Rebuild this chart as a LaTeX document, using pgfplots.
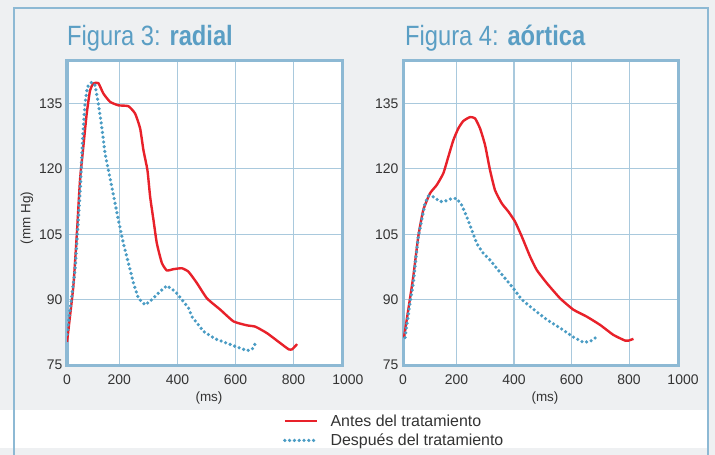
\documentclass[border=0pt]{standalone}
\usepackage{fontspec}
\setmainfont{Liberation Sans}
\usepackage{graphicx}
\usepackage{pgfplots}
\pgfplotsset{compat=1.18}
\definecolor{bg}{HTML}{EEF0F2}
\definecolor{framec}{HTML}{8DB9D4}
\definecolor{gridc}{HTML}{A9C9DD}
\definecolor{titc}{HTML}{5A9EC4}
\definecolor{redc}{HTML}{E8212A}
\definecolor{bluec}{HTML}{4A9CC4}
\definecolor{txt}{HTML}{333333}
\pgfplotsset{
 panel/.style={
  scale only axis, height=305bp,
  ymin=75,ymax=145, ytick={75,90,105,120,135},
  grid=major, major grid style={gridc, line width=1.1bp},
  axis line style={framec, line width=3bp},
  major tick length=0pt,
  axis background/.style={fill=white},
  tick label style={font=\fontsize{14}{16}\selectfont, text=txt},
  /pgf/number format/assume math mode=true,
  yticklabel style={xshift=-1bp},
  xticklabel style={yshift=-6bp},
  xticklabels={0,200,400,600,800,\hspace*{10bp}1000},
 },
 before/.style={redc, line width=2.4bp, line join=round, smooth, tension=0.3},
 after/.style={bluec, line width=3.6bp, line cap=round, dash pattern=on 0bp off 4.8bp},
}
\begin{document}
\begin{tikzpicture}
\path[use as bounding box] (0bp,0bp) rectangle (715bp,-455bp);
\fill[bg] (0bp,0bp) rectangle (715bp,-455bp);
\fill[white] (0bp,-410bp) rectangle (708bp,-448bp);
\draw[framec, line width=2.5bp] (14bp,-460bp) -- (14bp,-8bp) -- (708bp,-8bp) -- (708bp,-460bp);

\node[anchor=base west, inner sep=0pt, text=titc, font=\fontsize{28}{30}\selectfont] at (67bp,-45bp) {\scalebox{0.85}[1]{Figura 3: \textbf{radial}}};
\node[anchor=base west, inner sep=0pt, text=titc, font=\fontsize{28}{30}\selectfont] at (405bp,-45bp) {\scalebox{0.85}[1]{Figura 4: \textbf{aórtica}}};
\node[rotate=90, inner sep=0pt, text=txt, font=\fontsize{13.5}{15}\selectfont] at (27bp,-218bp) {(mm Hg)};
\node[inner sep=0pt, text=txt, font=\fontsize{13.5}{15}\selectfont] at (209bp,-398bp) {(ms)};
\node[inner sep=0pt, text=txt, font=\fontsize{13.5}{15}\selectfont] at (545bp,-398bp) {(ms)};

\begin{axis}[panel, width=276bp, at={(67bp,-365bp)}, anchor=south west,
  xmin=20, xmax=970, xtick={20,200,400,600,800,970},
  legend style={at={(axis description cs:0.7826,-0.216)}, anchor=west, draw=none, fill=none,
    inner sep=0pt, outer sep=0pt, row sep=6bp, column sep=12bp,
    font=\fontsize{16}{18}\selectfont, text=txt, nodes={inner sep=0pt}},
  legend cell align=left,
  legend image code/.code={\draw[#1, sharp plot] (0bp,0bp) -- (32bp,0bp);},
]
\addplot[before] coordinates {(20,80.3)(41.7,93.0)(53.4,104.5)(64.8,117.4)(76.2,125.1)(87.9,132.7)(99.3,138.0)(110.7,139.6)(127.9,139.7)(145.2,137.3)(168.3,135.4)(196.9,134.6)(231.4,134.4)(254.5,132.7)(271.7,129.3)(283.1,124.3)(296.9,119.7)(306.2,113.6)(317.6,108.3)(329.3,102.9)(346.6,98.4)(363.8,96.7)(386.6,97.0)(415.5,97.2)(438.3,96.4)(467.2,93.8)(501.7,90.3)(547.6,87.7)(593.4,85.0)(639.7,84.1)(668.3,83.8)(708.6,82.3)(754.5,80.0)(783.1,78.6)(794.8,78.6)(812.1,79.8)};
\addlegendentry{Antes del tratamiento}
\addplot[after] coordinates {(20,82)(47.6,96.8)(59.0,108.3)(67.2,117.4)(74.1,127.4)(82.1,135)(90.0,138.8)(105.2,139.9)(116.6,139.2)(127.9,135)(139.7,129.6)(151.0,123.5)(162.4,119.7)(174.1,115.9)(185.5,112.1)(196.9,108.3)(214.1,102.9)(231.4,98.4)(248.6,93.8)(265.9,90.3)(289.0,88.8)(312.1,90)(340.7,91.9)(363.8,93.2)(392.4,91.9)(415.5,90)(438.3,88.1)(450.0,86.1)(490.0,82.7)(530.3,81.0)(570.7,80.0)(610.7,79.0)(639.7,78.3)(656.9,78.6)(674.1,80.6)};
\addlegendentry{Después del tratamiento}
\end{axis}

\begin{axis}[panel, width=275bp, at={(403bp,-365bp)}, anchor=south west,
  xmin=14, xmax=970, xtick={14,200,400,600,800,970},
]
\addplot[before] coordinates {(17.5,81.3)(32.4,87.7)(49.8,95.3)(67.2,104.5)(84.6,110.6)(107.9,114.4)(131.2,116.3)(154.2,119.0)(171.6,122.8)(189.0,126.6)(206.3,129.3)(223.7,131.0)(247.0,131.9)(264.4,131.6)(281.8,129.3)(299.2,125.5)(316.6,119.7)(334.0,115.1)(357.3,112.1)(380.3,110.2)(403.6,107.9)(426.9,104.5)(455.7,99.9)(479.0,96.8)(513.8,93.8)(560.1,90.3)(606.3,87.7)(652.9,86.1)(699.2,84.2)(745.5,81.9)(786.2,80.6)(797.7,80.6)(815.0,81.0)};
\addplot[after] coordinates {(21.0,81.3)(38.3,89.2)(49.8,93.8)(59.2,99.9)(67.2,104.5)(79.0,108.3)(90.5,112.1)(102.0,113.8)(119.4,113.6)(142.7,112.5)(160.1,112.6)(183.4,113.2)(200.8,113.2)(218.2,111.7)(235.6,109.0)(253.0,106.0)(270.3,102.9)(293.3,100.6)(316.6,99.1)(339.9,97.2)(368.8,94.9)(397.7,92.6)(426.9,90.0)(461.7,88.1)(513.8,85.4)(560.1,83.5)(606.3,81.4)(641.1,80.2)(664.4,80.4)(681.8,81.2)};
\end{axis}
\end{tikzpicture}
\end{document}
